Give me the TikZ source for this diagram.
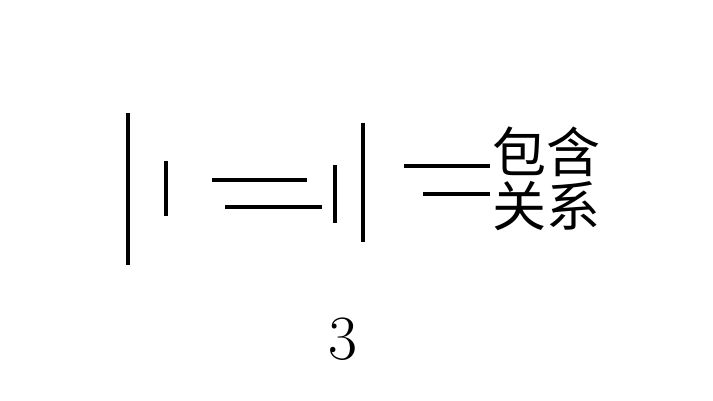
\documentclass[tikz,border=0pt]{standalone}
\usepackage{fontspec}
\newfontfamily\cjk{Noto Sans CJK SC}
\usepackage{tikz}
\tikzset{stroke/.style={draw, line width=4pt}}
\tikzset{label text/.style={inner sep=0, font=\cjk\fontsize{54}{54}\selectfont}}
\tikzset{number/.style={inner sep=0, font=\fontsize{63}{63}\selectfont}}

\begin{document}
\begin{tikzpicture}[x=1pt, y=-1pt]
  \useasboundingbox (0, 0) rectangle (713, 401);

  % vertical strokes
  \draw[stroke] (128, 113) -- (128, 265);
  \draw[stroke] (166, 161) -- (166, 216);
  \draw[stroke] (335, 165) -- (335, 223);
  \draw[stroke] (363, 123) -- (363, 242);

  % horizontal strokes
  \draw[stroke] (212, 180) -- (307, 180);
  \draw[stroke] (225, 207) -- (322, 207);
  \draw[stroke] (404, 166) -- (490, 166);
  \draw[stroke] (423, 194) -- (490, 194);

  \node[label text] at (546, 152) (top) {包含};
  \node[label text] at (546, 206) (bottom) {关系};

  \node[number] at (343, 339) (three) {3};
\end{tikzpicture}
\end{document}
